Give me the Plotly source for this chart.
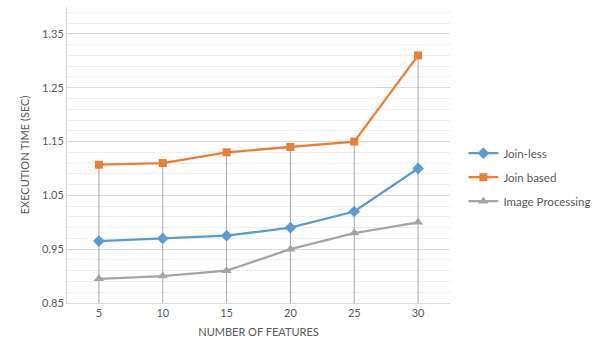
import plotly.graph_objects as go

# Number of features on the x axis
features = ["5", "10", "15", "20", "25", "30"]

# Execution time (sec) per method
join_less = [0.965, 0.97, 0.975, 0.99, 1.02, 1.10]
join_based = [1.107, 1.11, 1.13, 1.14, 1.15, 1.31]
image_processing = [0.895, 0.90, 0.91, 0.95, 0.98, 1.00]

y_ticks = [0.85, 0.95, 1.05, 1.15, 1.25, 1.35]
y_min, y_max = 0.85, 1.40

BLUE = "#5b9bd5"
ORANGE = "#ed7d31"
GRAY = "#a5a5a5"
TEXT = "#595959"
FONT = "Lato, 'Open Sans', sans-serif"

fig = go.Figure()

# Drop lines from the highest point of each category down to the axis
drop_x, drop_y = [], []
for i, f in enumerate(features):
    top = max(join_less[i], join_based[i], image_processing[i])
    drop_x += [f, f, None]
    drop_y += [y_min, top, None]
fig.add_trace(go.Scatter(
    x=drop_x, y=drop_y, mode="lines",
    line=dict(color="#a6a6a6", width=1),
    showlegend=False, hoverinfo="skip",
))

fig.add_trace(go.Scatter(
    x=features, y=join_less, name="Join-less", mode="lines+markers",
    legendgroup="a",
    line=dict(color=BLUE, width=2.25),
    marker=dict(symbol="diamond", size=9, color=BLUE),
))
fig.add_trace(go.Scatter(
    x=features, y=join_based, name="Join based", mode="lines+markers",
    legendgroup="b",
    line=dict(color=ORANGE, width=2.25),
    marker=dict(symbol="square", size=8, color=ORANGE),
))
fig.add_trace(go.Scatter(
    x=features, y=image_processing, name="Image Processing", mode="lines+markers",
    legendgroup="c",
    line=dict(color=GRAY, width=2.25),
    marker=dict(symbol="triangle-up", size=9, color=GRAY),
))

fig.update_layout(
    width=606, height=347,
    margin=dict(l=67, r=156, t=7, b=44),
    paper_bgcolor="white", plot_bgcolor="white",
    font=dict(family=FONT, size=11, color=TEXT),
    legend=dict(
        x=1.035, y=0.425, xanchor="left", yanchor="middle",
        font=dict(family=FONT, size=11.5, color=TEXT),
        itemwidth=30, tracegroupgap=5,
    ),
    xaxis=dict(
        type="category", range=[-0.5, 5.5],
        showgrid=False, showline=True, linecolor="#d9d9d9", linewidth=1,
        ticks="", tickfont=dict(size=11, color=TEXT),
        title=dict(text="NUMBER OF FEATURES", font=dict(size=11, color=TEXT), standoff=10),
        zeroline=False,
    ),
    yaxis=dict(
        range=[y_min, y_max], tickvals=y_ticks,
        ticktext=[f"{v:.2f}" for v in y_ticks],
        showgrid=True, gridcolor="#d9d9d9", gridwidth=1,
        minor=dict(dtick=0.02, tick0=0.85, showgrid=True, gridcolor="#eeeeee", gridwidth=1),
        showline=True, linecolor="#d9d9d9", linewidth=1,
        ticks="", tickfont=dict(size=11, color=TEXT),
        title=dict(text="EXECUTION TIME (SEC)", font=dict(size=11, color=TEXT), standoff=10),
        zeroline=False,
    ),
)

fig.write_html("out.html")
